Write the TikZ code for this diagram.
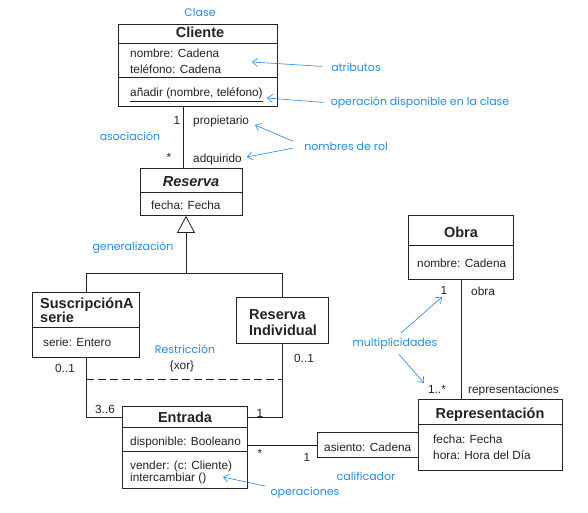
\documentclass[tikz,border=0pt]{standalone}
\usepackage{fontspec}
\setmainfont{Liberation Sans}
\newfontfamily\labfont{Poppins}
\usetikzlibrary{arrows.meta}
\definecolor{azul}{RGB}{35,140,235}
\definecolor{tinta}{RGB}{35,35,35}
\begin{document}
\begin{tikzpicture}[x=1pt,y=-1pt,
  ln/.style={draw=tinta, line width=0.8pt},
  comp/.style={ln, rectangle, inner sep=0pt, anchor=north west, fill=white},
  ttl/.style={font=\fontsize{14.5}{16}\selectfont\bfseries, text=tinta, inner sep=0pt, anchor=base},
  ttll/.style={ttl, anchor=base west},
  txt/.style={font=\fontsize{11.8}{14}\selectfont, text=tinta, inner sep=0pt, anchor=base west},
  mul/.style={font=\fontsize{11.8}{14}\selectfont, text=tinta, inner sep=0pt, anchor=base},
  note/.style={font=\labfont\fontsize{11}{13}\selectfont, text=azul, inner sep=0pt},
  narrow/.style={draw=azul, line width=0.6pt, -{Straight Barb[length=5pt,width=8pt]}},
]
\useasboundingbox[fill=white] (0,0) rectangle (588,513);

% ---------- Cliente
\node[comp, minimum width=159pt, minimum height=19pt] (cli1) at (118,24) {};
\node[comp, minimum width=159pt, minimum height=34pt] (cli2) at (118,43) {};
\node[comp, minimum width=159pt, minimum height=29pt] (cli3) at (118,77) {};
\node[ttl] (cliT) at (200,38) {Cliente};
\node[txt] (cliA1) at (130,58) {nombre: Cadena};
\node[txt] (cliA2) at (130,74) {teléfono: Cadena};
\node[txt] (cliO) at (130,97) {\underline{añadir (nombre, teléfono)}};

% ---------- Reserva
\node[comp, minimum width=102pt, minimum height=24pt] (res1) at (140,168) {};
\node[comp, minimum width=102pt, minimum height=23pt] (res2) at (140,192) {};
\node[ttl, font=\fontsize{14.5}{16}\selectfont\bfseries\itshape] (resT) at (191,186) {Reserva};
\node[txt] (resA) at (151,209) {fecha: Fecha};

% ---------- SuscripcionA serie
\node[comp, minimum width=107pt, minimum height=35pt] (sus1) at (32,292) {};
\node[comp, minimum width=107pt, minimum height=30pt] (sus2) at (32,327) {};
\node[ttll] (susT1) at (40,308) {SuscripciónA};
\node[ttll] (susT2) at (40,322) {serie};
\node[txt] (susA) at (43,346) {serie: Entero};

% ---------- Reserva Individual
\node[comp, minimum width=92pt, minimum height=46pt] (ri) at (236,297) {};
\node[ttll] (riT1) at (249,319) {Reserva};
\node[ttll] (riT2) at (249,335) {Individual};

% ---------- Entrada
\node[comp, minimum width=125pt, minimum height=21pt] (ent1) at (122,406) {};
\node[comp, minimum width=125pt, minimum height=24pt] (ent2) at (122,427) {};
\node[comp, minimum width=125pt, minimum height=37pt] (ent3) at (122,451) {};
\node[ttl] (entT) at (185,422) {Entrada};
\node[txt] (entA) at (130,445) {disponible: Booleano};
\node[txt] (entO1) at (130,469) {vender: (c: Cliente)};
\node[txt] (entO2) at (130,481) {intercambiar ()};

% ---------- asiento (calificador)
\node[comp, minimum width=101pt, minimum height=25pt] (asi) at (317,432) {};
\node[txt] (asiT) at (324,451) {asiento: Cadena};

% ---------- Representacion
\node[comp, minimum width=144pt, minimum height=25pt] (rep1) at (418,399) {};
\node[comp, minimum width=144pt, minimum height=46pt] (rep2) at (418,424) {};
\node[ttl] (repT) at (490,418) {Representación};
\node[txt] (repA1) at (433,443) {fecha: Fecha};
\node[txt] (repA2) at (433,459) {hora: Hora del Día};

% ---------- Obra
\node[comp, minimum width=105pt, minimum height=30pt] (obr1) at (408,215) {};
\node[comp, minimum width=105pt, minimum height=34pt] (obr2) at (408,245) {};
\node[ttl] (obrT) at (461,237) {Obra};
\node[txt] (obrA) at (417,267) {nombre: Cadena};

% ---------- connectors
\coordinate (ax) at (183,0);
\draw[ln] (ax |- cli3.south) -- (ax |- res1.north);

\coordinate (gx) at (186,0);
\coordinate (gj) at (186,273);
\draw[ln, -{Triangle[open, length=17pt, width=18pt]}] (gj) -- (gx |- res2.south);
\draw[ln] (gj) -| (sus1.north);
\draw[ln] (gj) -| (ri.north);

\draw[ln] (sus2.south) |- (ent1.west);
\draw[ln] (ri.south) |- (ent1.east);
\path (sus2.south) ++(0,22) coordinate (xl);
\draw[ln, dash pattern=on 8pt off 4pt] (xl) -- (xl -| ri.south);

\draw[ln] (asi.west) -- (asi.west -| ent2.east);
\draw[ln] (obr2.south) -- (obr2.south |- rep1.north);

% ---------- multiplicities and role names
\node[mul] (m1) at (177,125) {1};
\node[txt] (rProp) at (193,125) {propietario};
\node[mul, anchor=center] (m2) at (169,157) {*};
\node[txt] (rAdq) at (193,162) {adquirido};
\node[mul] (m3) at (65,372) {0..1};
\node[mul] (m4) at (304,362) {0..1};
\node[mul] (m5) at (105,413) {3..6};
\node[mul] (m6) at (260,417) {1};
\node[mul, anchor=center] (m7) at (260,453) {*};
\node[mul] (m8) at (307,461) {1};
\node[mul] (m9) at (444,294) {1};
\node[txt] (rObra) at (471,295) {obra};
\node[mul] (m10) at (437,393) {1..*};
\node[txt] (rRep) at (468,393) {representaciones};
\node[mul, anchor=center] (xor) at (182,366) {\{xor\}};

% ---------- blue notes
\node[note] (nClase) at (200,12) {Clase};
\node[note] (nAtr) at (356,67) {atributos};
\node[note] (nOp) at (420,103) {operación disponible en la clase};
\node[note] (nAsoc) at (130,136) {asociación};
\node[note] (nRol) at (346,146) {nombres de rol};
\node[note] (nGen) at (133,248) {generalización};
\node[note] (nRes) at (185,349) {Restricción};
\node[note] (nMul) at (395,344) {multiplicidades};
\node[note] (nCal) at (366,476) {calificador};
\node[note] (nOps) at (305,493) {operaciones};

\coordinate (tAtr) at (252,62);
\coordinate (tOp) at (267,98);
\coordinate (tRol1) at (255,125);
\coordinate (tRol2) at (247,157);
\coordinate (tMul1) at (442,297);
\coordinate (tMul2) at (424,383);
\coordinate (tOps) at (223,477);
\draw[narrow, shorten <=9pt] (nAtr.west) -- (tAtr);
\draw[narrow, shorten <=7pt] (nOp.west) -- (tOp);
\draw[narrow, shorten <=12pt] (nRol.west) -- (tRol1);
\draw[narrow, shorten <=12pt] (nRol.west) -- (tRol2);
\draw[narrow, shorten <=8pt] (nMul.north) -- (tMul1);
\draw[narrow, shorten <=6pt] (nMul.south) -- (tMul2);
\draw[narrow, shorten <=5pt] (nOps.north west) -- (tOps);
\end{tikzpicture}
\end{document}
